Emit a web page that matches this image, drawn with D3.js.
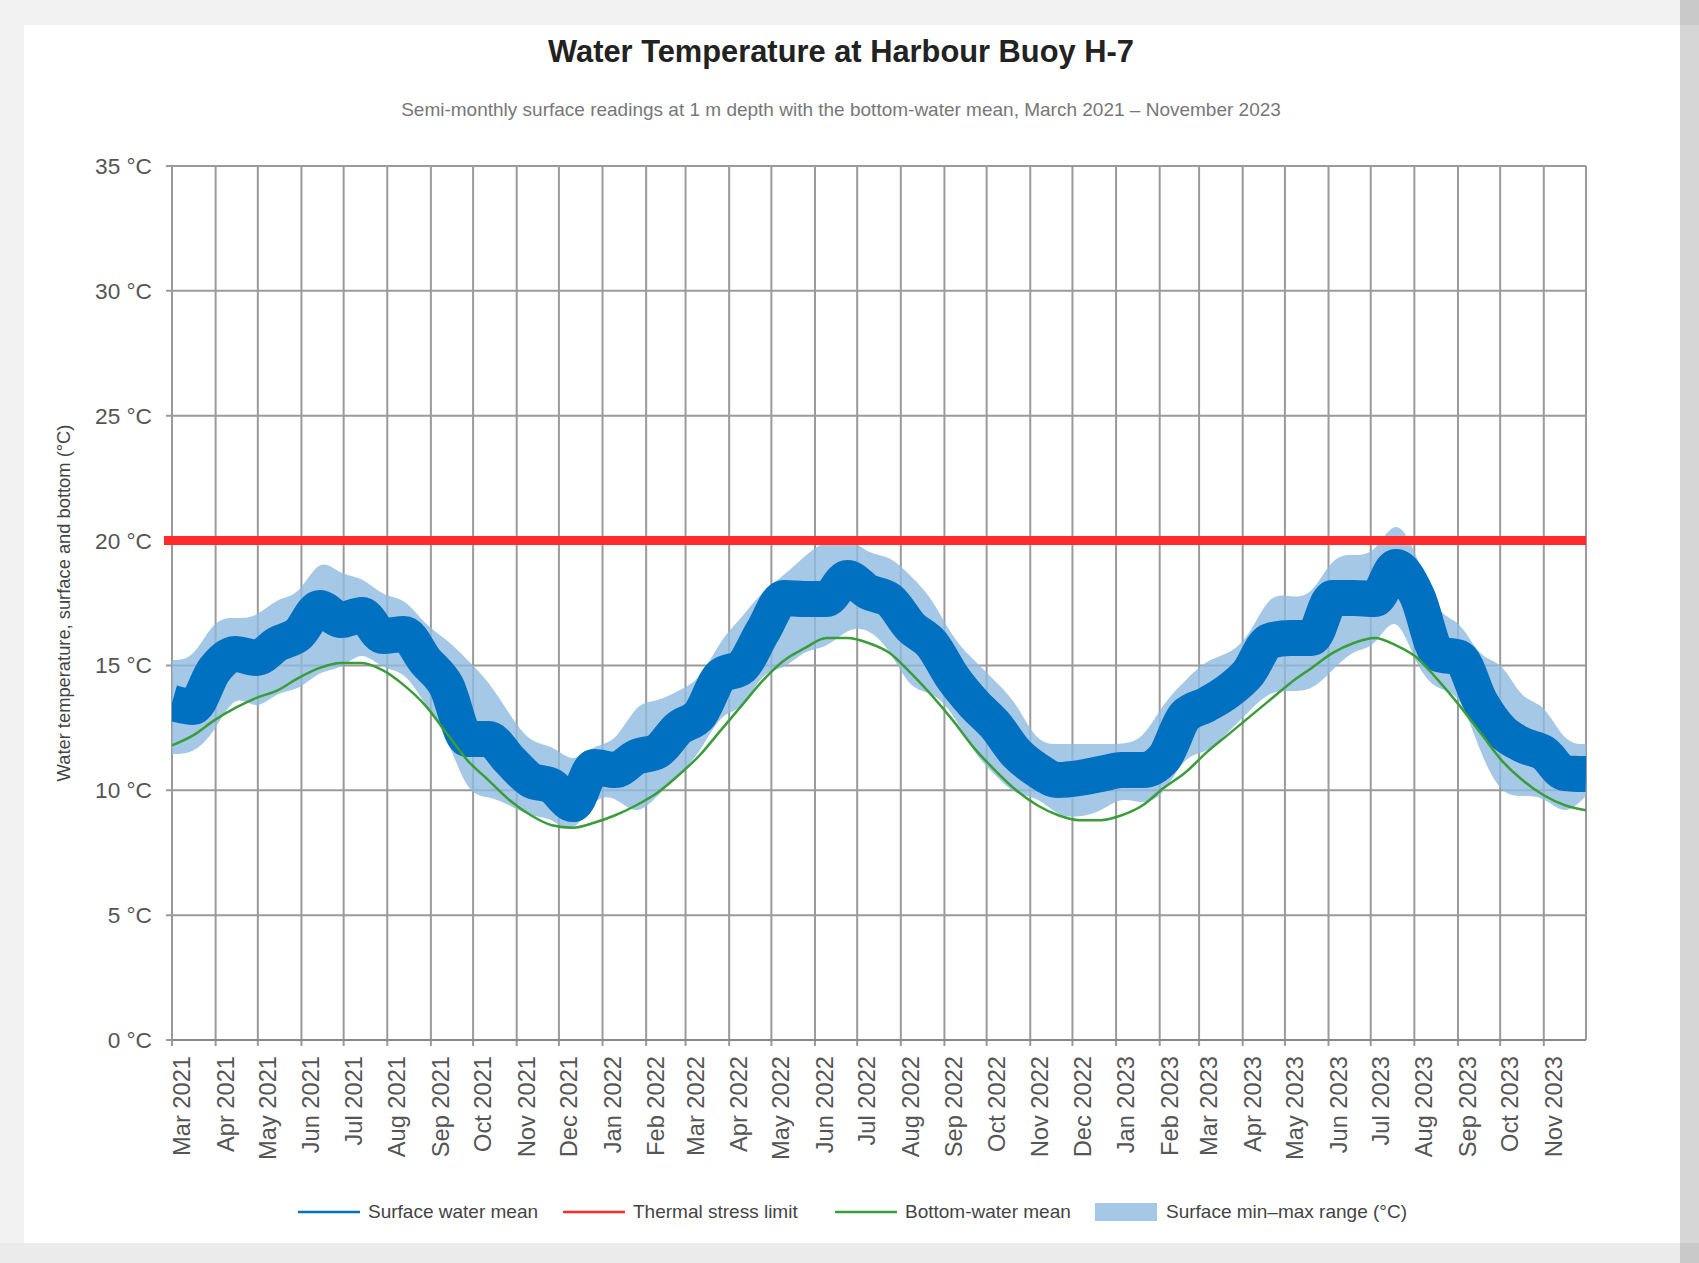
<!DOCTYPE html>
<html lang="en">
<head>
<meta charset="utf-8">
<title>Harbour buoy water temperature</title>
<script src="https://cdn.jsdelivr.net/npm/d3@7/dist/d3.min.js"></script>
<style>
  html, body { margin: 0; padding: 0; }
  body {
    background: #f2f2f2;
    width: 1699px; height: 1263px;
    overflow: hidden;
    position: relative;
    font-family: "Liberation Sans", Arial, sans-serif;
  }
  #card {
    position: absolute; left: 24px; top: 25px;
    width: 1656px; height: 1218px;
    background: #ffffff;
  }
  #footer-band {
    position: absolute; left: 0; top: 1243px;
    width: 1699px; height: 20px;
    background: #ebebeb;
  }
  #side-rail {
    position: absolute; left: 1680px; top: 0;
    width: 19px; height: 1263px;
    background: linear-gradient(#c9c9c9 0 25px, #d6d6d6 25px 1243px, #c9c9c9 1243px);
  }
  #chart { position: absolute; left: 0; top: 0; }
</style>
</head>
<body>
<div id="card"></div>
<div id="footer-band"></div>
<div id="side-rail"></div>
<svg id="chart" width="1680" height="1263"></svg>
<script>
// ---------------- data ----------------
// Semi-monthly samples (every 15 days) from 1 Mar 2021 to 1 Dec 2023, in °C.
const periodStart = new Date(2021, 2, 1);
const periodEnd = new Date(2023, 11, 1);
const sampleStepDays = 15;

const surfaceMean = [
  13.50, 13.34, 14.82, 15.46, 15.30, 15.86, 16.26, 17.30, 16.82, 17.02,
  16.18, 16.26, 15.18, 14.18, 12.05, 12.05, 11.21, 10.41, 10.17, 9.45,
  10.93, 10.81, 11.33, 11.57, 12.49, 13.02, 14.58, 14.94, 16.38, 17.70,
  17.66, 17.66, 18.50, 17.94, 17.62, 16.54, 15.86, 14.50, 13.46, 12.62,
  11.49, 10.81, 10.41, 10.49, 10.65, 10.81, 10.81, 11.29, 12.98, 13.42,
  13.94, 14.70, 15.98, 16.10, 16.10, 17.70, 17.70, 17.66, 18.94, 17.78,
  15.46, 15.30, 13.54, 12.37, 11.81, 11.49, 10.69, 10.65
];
const surfaceHigh = [
  15.22, 15.22, 16.90, 16.90, 16.90, 17.74, 17.74, 19.42, 18.58, 18.58,
  17.74, 17.74, 16.62, 16.06, 15.22, 14.38, 13.02, 11.85, 11.85, 11.01,
  11.85, 11.85, 13.54, 13.54, 14.00, 14.38, 16.06, 16.90, 18.02, 18.58,
  19.42, 20.02, 20.26, 19.42, 19.42, 18.58, 17.74, 16.06, 15.22, 14.38,
  13.54, 11.85, 11.85, 11.85, 11.85, 11.85, 12.01, 13.54, 14.38, 15.22,
  15.42, 16.06, 17.94, 17.74, 17.74, 19.42, 19.42, 19.42, 21.10, 19.42,
  16.90, 16.90, 15.22, 15.22, 13.54, 13.54, 11.85, 11.85
];
const surfaceLow = [
  11.45, 11.45, 12.29, 13.98, 13.14, 13.98, 13.98, 14.82, 14.82, 15.66,
  14.82, 14.82, 13.42, 12.29, 9.77, 9.77, 9.41, 8.93, 8.93, 8.09,
  9.77, 9.77, 8.93, 9.77, 10.61, 11.45, 13.14, 13.14, 14.82, 14.82,
  15.66, 15.66, 16.50, 16.50, 15.66, 13.98, 13.98, 13.14, 11.45, 10.61,
  9.77, 9.77, 8.93, 8.93, 9.13, 9.77, 9.41, 9.77, 11.45, 11.45,
  12.29, 13.14, 13.98, 13.98, 13.98, 14.82, 15.66, 15.66, 17.34, 14.82,
  13.98, 13.98, 11.45, 9.77, 9.77, 9.77, 8.93, 9.77
];
const bottomMean = [
  11.8, 12.2, 12.8, 13.3, 13.7, 14.0, 14.5, 14.9, 15.1, 15.1,
  14.8, 14.2, 13.4, 12.3, 11.2, 10.4, 9.6, 9.0, 8.6, 8.5,
  8.7, 9.0, 9.4, 9.9, 10.6, 11.4, 12.4, 13.4, 14.4, 15.2,
  15.7, 16.1, 16.1, 15.9, 15.5, 14.7, 13.8, 12.8, 11.7, 10.8,
  10.0, 9.4, 9.0, 8.8, 8.8, 9.0, 9.4, 10.1, 10.7, 11.5,
  12.2, 12.9, 13.6, 14.3, 14.9, 15.5, 15.9, 16.1, 15.8, 15.3,
  14.4, 13.4, 12.3, 11.2, 10.4, 9.8, 9.4, 9.2
];
const stressLimit = 20;
const yDomain = [0, 35];
const yTicks = [0, 5, 10, 15, 20, 25, 30, 35];

const titleText = "Water Temperature at Harbour Buoy H-7";
const subtitleText = "Semi-monthly surface readings at 1 m depth with the bottom-water mean, March 2021 \u2013 November 2023";
const yAxisTitle = "Water temperature, surface and bottom (\u00b0C)";
const seriesNames = ["Surface water mean", "Thermal stress limit", "Bottom-water mean", "Surface min\u2013max range (\u00b0C)"];

// ---------------- colours ----------------
const colSurface = "#0070c0";
const colLimit = "#ff2a2a";
const colBottom = "#3a9d3a";
const colRange = "#8dbade";

// ---------------- layout ----------------
const plot = { left: 172, right: 1586, top: 166, bottom: 1040 };
const svg = d3.select("#chart");

const rows = surfaceMean.map((v, i) => ({
  date: d3.timeDay.offset(periodStart, i * sampleStepDays),
  mean: v,
  high: surfaceHigh[i],
  low: surfaceLow[i],
  bottom: bottomMean[i]
}));

const x = d3.scaleTime().domain([periodStart, periodEnd]).range([plot.left, plot.right]);
const y = d3.scaleLinear().domain(yDomain).range([plot.bottom, plot.top]);
const monthTicks = d3.timeMonth.range(periodStart, periodEnd);

// scale a text element's font so its rendered length matches a target
function fitLength(sel, target, minPx, maxPx) {
  const base = parseFloat(sel.style("font-size"));
  const len = sel.node().getComputedTextLength();
  const size = Math.max(minPx, Math.min(maxPx, base * target / len));
  sel.style("font-size", size + "px");
  return size;
}

// ---------------- grid & frame ----------------
const grid = svg.append("g").attr("class", "grid")
  .attr("stroke", "#9a9a9a").attr("stroke-width", 2).attr("fill", "none");

grid.selectAll("line.vgrid")
  .data(monthTicks.concat([periodEnd]))
  .join("line").attr("class", "vgrid")
  .attr("x1", d => x(d)).attr("x2", d => x(d))
  .attr("y1", plot.top)
  .attr("y2", d => (+d === +periodEnd ? plot.bottom : plot.bottom + 6));

grid.selectAll("line.hgrid")
  .data(yTicks)
  .join("line").attr("class", "hgrid")
  .attr("x1", plot.left - 6).attr("x2", plot.right)
  .attr("y1", d => y(d)).attr("y2", d => y(d));

// ---------------- series ----------------
svg.append("clipPath").attr("id", "plot-clip")
  .append("rect")
  .attr("x", plot.left).attr("y", plot.top)
  .attr("width", plot.right - plot.left).attr("height", plot.bottom - plot.top);

const series = svg.append("g").attr("clip-path", "url(#plot-clip)");

const rangeArea = d3.area()
  .x(d => x(d.date))
  .y0(d => y(d.low))
  .y1(d => y(d.high))
  .curve(d3.curveBasis);

series.append("path")
  .datum(rows)
  .attr("d", rangeArea)
  .attr("fill", colRange)
  .attr("fill-opacity", 0.8);

const meanLine = d3.line()
  .x(d => x(d.date))
  .y(d => y(d.mean))
  .curve(d3.curveMonotoneX);

series.append("path")
  .datum(rows)
  .attr("d", meanLine)
  .attr("fill", "none")
  .attr("stroke", colSurface)
  .attr("stroke-width", 36)
  .attr("stroke-linejoin", "round");

const bottomLine = d3.line()
  .x(d => x(d.date))
  .y(d => y(d.bottom))
  .curve(d3.curveMonotoneX);

series.append("path")
  .datum(rows)
  .attr("d", bottomLine)
  .attr("fill", "none")
  .attr("stroke", colBottom)
  .attr("stroke-width", 2.5);

// stress-limit line
svg.append("line")
  .attr("x1", plot.left - 8).attr("x2", plot.right)
  .attr("y1", y(stressLimit)).attr("y2", y(stressLimit))
  .attr("stroke", colLimit)
  .attr("stroke-width", 9);

// ---------------- axes ----------------
svg.append("line")
  .attr("x1", plot.left).attr("x2", plot.right)
  .attr("y1", plot.bottom).attr("y2", plot.bottom)
  .attr("stroke", "#777").attr("stroke-width", 1);

// y tick labels
const yLabels = svg.append("g")
  .attr("fill", "#555")
  .style("font-size", "22px");
yLabels.selectAll("text")
  .data(yTicks)
  .join("text")
  .attr("x", plot.left - 20)
  .attr("y", d => y(d))
  .attr("dy", "0.35em")
  .attr("text-anchor", "end")
  .text(d => `${d} \u00b0C`);
const yTickSize = fitLength(yLabels.select("text:last-child"), 57, 16, 26);
yLabels.selectAll("text").style("font-size", yTickSize + "px");

// x tick labels, rotated
const monthFmt = d3.timeFormat("%b %Y");
const xLabels = svg.append("g")
  .attr("fill", "#555")
  .style("font-size", "22px");
const xTexts = xLabels.selectAll("text")
  .data(monthTicks)
  .join("text")
  .attr("text-anchor", "end")
  .text(monthFmt);
let longest = 0;
xTexts.each(function () { longest = Math.max(longest, this.getComputedTextLength()); });
const xFont = Math.max(16, Math.min(26, 22 * 104 / longest));
xLabels.style("font-size", xFont + "px");
const capShift = 1 + 0.72 * xFont;
xTexts.attr("transform", d => `translate(${x(d) + capShift},1056) rotate(-90)`);

// y axis title
const yTitle = svg.append("text")
  .attr("transform", `translate(70,${(plot.top + plot.bottom) / 2}) rotate(-90)`)
  .attr("text-anchor", "middle")
  .attr("fill", "#444")
  .style("font-size", "20px")
  .text(yAxisTitle);
fitLength(yTitle, 357, 16, 26);

// ---------------- titles ----------------
const title = svg.append("text")
  .attr("x", 841).attr("y", 62)
  .attr("text-anchor", "middle")
  .attr("fill", "#222")
  .style("font-size", "30px")
  .style("font-weight", "bold")
  .text(titleText);
fitLength(title, 586, 24, 34);

const subtitle = svg.append("text")
  .attr("x", 841).attr("y", 116)
  .attr("text-anchor", "middle")
  .attr("fill", "#777")
  .style("font-size", "20px")
  .text(subtitleText);
fitLength(subtitle, 880, 16, 24);

// ---------------- legend ----------------
const legendY = 1212;
const legendItems = [
  { name: seriesNames[0], kind: "line", color: colSurface, x0: 298, tx: 368 },
  { name: seriesNames[1], kind: "line", color: colLimit, x0: 563, tx: 633 },
  { name: seriesNames[2], kind: "line", color: colBottom, x0: 835, tx: 905 },
  { name: seriesNames[3], kind: "rect", color: colRange, x0: 1095, tx: 1166 }
];
const legend = svg.append("g").style("font-size", "19px").attr("fill", "#444");
legendItems.forEach(item => {
  if (item.kind === "line") {
    legend.append("line")
      .attr("x1", item.x0).attr("x2", item.x0 + 62)
      .attr("y1", legendY).attr("y2", legendY)
      .attr("stroke", item.color).attr("stroke-width", 2.5);
  } else {
    legend.append("rect")
      .attr("x", item.x0).attr("y", legendY - 9)
      .attr("width", 62).attr("height", 18)
      .attr("fill", item.color).attr("fill-opacity", 0.8);
  }
  legend.append("text")
    .attr("x", item.tx).attr("y", legendY + 6)
    .text(item.name);
});
</script>
</body>
</html>
